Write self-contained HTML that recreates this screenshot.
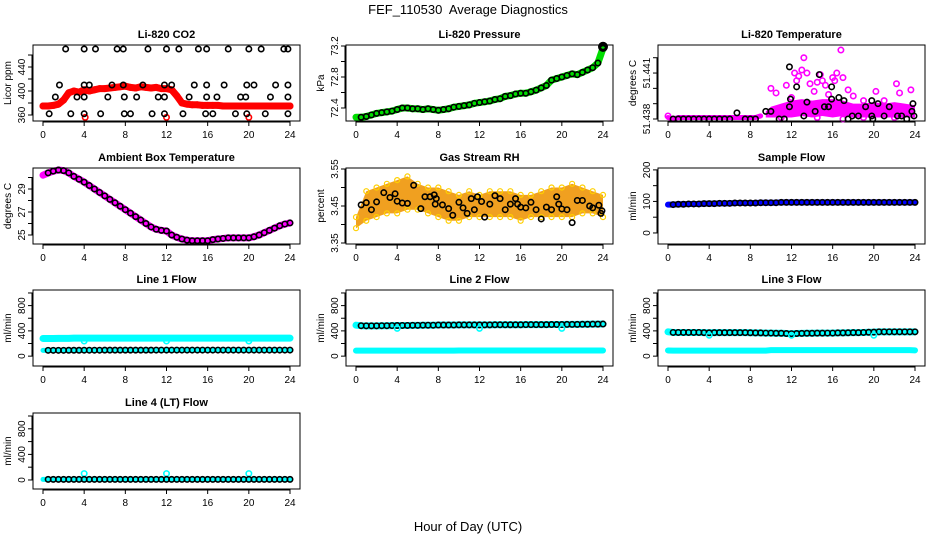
<!DOCTYPE html>
<html><head><meta charset="utf-8"><style>
body{margin:0;background:#fff}
svg{display:block;font-family:"Liberation Sans",sans-serif}
.t{font-size:11px;font-weight:bold;text-anchor:middle}
.k{font-size:10px;text-anchor:middle}
</style></head><body>
<svg id="c" width="936" height="540">
<text x="468" y="14" style="font-size:13px;text-anchor:middle;white-space:pre">FEF_110530  Average Diagnostics</text>
<text x="468" y="531" style="font-size:13px;text-anchor:middle">Hour of Day (UTC)</text>
</svg>
<script>
// ---- data ----
const hours = [0,0.5,1,1.5,2,2.5,3,3.5,4,4.5,5,5.5,6,6.5,7,7.5,8,8.5,9,9.5,10,10.5,11,11.5,12,12.5,13,13.5,14,14.5,15,15.5,16,16.5,17,17.5,18,18.5,19,19.5,20,20.5,21,21.5,22,22.5,23,23.5,24];
const co2Red = [375,375,376,378,385,397,400,398,402,400,402,404,404,405,406,407,408,406,405,407,406,405,406,404,404,402,392,380,378,377,377,376,376,376,376,375,375,375,375,375,375,375,375,375,375,375,375,375,375];
const co2BlackX = [2.2,4,5.1,7.2,7.8,10.2,12,13.2,15.1,15.9,18,20,21.2,23.4,23.8, 1.6,4,4.5,6.7,7.8,9.7,11.8,12.5,14.7,15.9,17.6,19.8,20.5,22.6,23.8, 1.2,3.3,4,6.3,7.9,9.1,11.2,11.8,14.2,15.9,16.9,19.2,19.7,22.1,23.8, 0.6,2.7,4,5.6,7.9,8.5,10.6,11.8,13.6,15.8,16.5,18.7,19.8,21.6,23.8];
const co2BlackY = [470,470,470,470,470,470,470,470,470,470,470,470,470,470,470, 410,410,410,410,410,410,410,410,410,410,410,410,410,410,410, 390,390,390,390,390,390,390,390,390,390,390,390,390,390,390, 362,362,362,362,362,362,362,362,362,362,362,362,362,362,362];
const co2OutX = [4.1,12,20];
const co2OutY = [356,356,356];
const pressure = [72.28,72.28,72.29,72.31,72.33,72.34,72.35,72.36,72.38,72.40,72.40,72.39,72.39,72.38,72.39,72.38,72.37,72.38,72.39,72.41,72.42,72.43,72.44,72.46,72.47,72.48,72.49,72.51,72.52,72.55,72.56,72.58,72.59,72.59,72.61,72.63,72.66,72.69,72.76,72.78,72.80,72.82,72.84,72.83,72.86,72.89,72.92,72.98,73.17];
const tempBaseX = [0,0.5,1,1.5,2,2.5,3,3.5,4,4.5,5,5.5,6,6.5,7,7.5,8,8.5,9];
const tempBaseY = [51.4381,51.4380,51.4381,51.4381,51.4381,51.4381,51.4381,51.4381,51.4381,51.4381,51.4381,51.4381,51.4381,51.4381,51.4381,51.4381,51.4381,51.4381,51.4382];
const tempBandX = [9.5,10,11,12,13,14,15,16,17,18,19,20,21,22,23,24];
const tempBandLo = [51.4381,51.4381,51.4381,51.4381,51.4382,51.4381,51.4382,51.4381,51.4382,51.4381,51.4381,51.4381,51.4381,51.4381,51.4381,51.4381];
const tempBandHi = [51.4385,51.4388,51.4390,51.4392,51.4393,51.4392,51.4393,51.4393,51.4392,51.4390,51.4390,51.4391,51.4390,51.4391,51.4390,51.4389];
const tempPinkX = [10,10.5,11.5,12,12.3,12.5,12.7,13,13.2,13.5,13.8,14.2,14.5,14.8,15,15.3,15.6,16,16.2,16.4,16.8,17,17.5,18,19,20.2,21,22.2,22.5,23.6,11,14.5,17,19,22,0];
const tempPinkY = [51.4400,51.4397,51.4402,51.4394,51.4410,51.4405,51.4408,51.4412,51.4420,51.4410,51.4403,51.4398,51.4404,51.4409,51.4405,51.4402,51.4396,51.4407,51.4405,51.4410,51.4425,51.4407,51.4399,51.4395,51.4392,51.4398,51.4392,51.4403,51.4397,51.4399,51.4381,51.4381,51.4380,51.4381,51.4381,51.4382];
const tempBlackX = [0.5,1,1.5,2,2.5,3,3.5,4,4.5,5,5.5,6,6.7,7.5,8,8.5,9.5,10,10.8,11.3,11.8,11.9,11.8,12.5,13.2,13.5,14.3,14.7,15.2,15.6,15.9,15.9,16.6,17.1,17.5,17.9,18.5,19.2,19.8,19.8,19.9,20.4,21,21.5,22.3,22.7,23.2,23.7,23.8,23.9];
const tempBlackY = [51.4380,51.4380,51.4380,51.4380,51.4380,51.4380,51.4380,51.4380,51.4380,51.4380,51.4380,51.4380,51.4384,51.4380,51.4380,51.4380,51.4385,51.4385,51.4380,51.4380,51.4388,51.4393,51.4414,51.4401,51.4382,51.4391,51.4385,51.4409,51.4388,51.4388,51.4393,51.4401,51.4394,51.4392,51.4380,51.4382,51.4382,51.4388,51.4392,51.4382,51.4380,51.4390,51.4382,51.4388,51.4382,51.4382,51.4380,51.4385,51.4390,51.4382];
const ambient = [30.2,30.4,30.55,30.65,30.6,30.4,30.1,29.85,29.6,29.3,29.0,28.7,28.4,28.1,27.8,27.5,27.2,26.9,26.6,26.3,26.0,25.7,25.5,25.4,25.35,25.0,24.8,24.65,24.55,24.5,24.5,24.5,24.5,24.6,24.65,24.7,24.75,24.75,24.75,24.75,24.75,24.85,25.0,25.2,25.4,25.6,25.8,25.95,26.05];
const rhBandX = [0,1,2,3,4,5,6,7,8,9,10,11,12,13,14,15,16,17,18,19,20,21,22,23,24];
const rhBandLo = [3.39,3.41,3.42,3.43,3.43,3.44,3.44,3.43,3.42,3.41,3.41,3.42,3.42,3.42,3.42,3.42,3.41,3.42,3.42,3.42,3.42,3.42,3.43,3.43,3.42];
const rhBandHi = [3.42,3.49,3.50,3.51,3.52,3.53,3.51,3.50,3.50,3.49,3.48,3.49,3.48,3.49,3.49,3.49,3.48,3.48,3.49,3.50,3.50,3.51,3.50,3.49,3.48];
const rhBlackX = [0.5,1,1.5,2,2.7,3.3,3.8,4,4.5,5,5.6,6.3,6.7,7.2,7.6,7.8,7.7,8.4,9,9.4,10,10.4,10.8,11.2,11.5,11.8,12.2,12.5,13,13.5,14,14.5,15,15.5,15.7,16,16.5,17,17.5,18,18.5,19,19.5,19.7,20,20.5,21,21.5,22,22.7,23,23.6,23.8,23.9];
const rhBlackY = [3.453,3.459,3.44,3.461,3.486,3.473,3.483,3.463,3.458,3.457,3.506,3.443,3.475,3.475,3.48,3.47,3.455,3.453,3.443,3.425,3.46,3.445,3.43,3.47,3.44,3.475,3.462,3.42,3.455,3.478,3.47,3.44,3.455,3.47,3.455,3.447,3.445,3.46,3.44,3.415,3.447,3.44,3.475,3.455,3.442,3.44,3.405,3.465,3.465,3.45,3.445,3.452,3.43,3.437];
const sampleFlow = [90,90,91,91,92,92,92,93,93,93,94,94,94,95,95,95,95,95,96,96,96,96,97,97,97,97,97,97,97,97,97,97,97,97,97,97,97,97,97,97,97,97,97,97,97,97,97,97,97];
const line1Hi = [280,280,280,282,282,282,285,285,285,285,285,285,285,285,285,285,285,285,285,285,285,285,285,285,285,285,285,285,285,285,285,285,285,285,285,285,285,285,285,285,285,285,285,285,285,285,285,285,285];
const line1Lo = [92,92,92,92,92,93,93,93,94,94,94,94,95,95,95,95,95,95,95,95,95,95,96,96,96,96,96,96,96,96,96,96,96,96,96,96,96,96,96,96,96,96,96,96,96,96,96,96,96];
const line2Hi = [490,482,480,480,480,482,482,484,485,486,486,488,488,490,490,490,492,492,492,492,494,494,494,494,495,495,495,496,496,496,497,497,497,498,498,498,499,499,500,500,500,502,502,503,504,505,506,507,508];
const line2Lo = [88,88,88,88,88,88,88,88,88,88,88,88,88,88,88,88,88,88,88,88,90,90,90,90,90,90,90,90,90,90,90,90,90,90,90,90,90,90,90,90,90,90,90,90,90,90,90,90,90];
const line3Hi = [385,375,375,375,375,375,375,372,370,372,372,372,372,372,372,372,370,368,368,365,365,362,362,358,355,358,360,362,362,364,364,365,365,368,368,370,372,372,375,378,380,385,385,385,385,385,385,385,385];
const line3Lo = [90,88,88,88,88,88,88,88,88,88,88,88,88,88,88,88,88,88,88,88,95,95,95,95,95,95,95,95,95,95,95,95,95,95,95,95,95,95,95,95,95,95,95,95,95,95,95,95,92];
const line4 = [10,10,10,10,10,10,10,10,10,10,10,10,10,10,10,10,10,10,10,10,10,10,10,10,10,10,10,10,10,10,10,10,10,10,10,10,10,10,10,10,10,10,10,10,10,10,10,10,10];
const line4OutX = [4,12,20];
const line4OutY = [100,100,100];
const xTicks = [0,4,8,12,16,20,24];

// ---- drawing ----
const svg = document.getElementById('c');
const NS = 'http://www.w3.org/2000/svg';
function mk(tag, attrs, parent){ const e=document.createElementNS(NS,tag); for(const k in attrs) e.setAttribute(k,attrs[k]); (parent||svg).appendChild(e); return e; }
const colL=[33,346,658], rowT=[45,168,290,413], W=267, H=76;

function panel(col,row,title,ylab,vLo,vHi,ticks,labels,name){
  const L=colL[col], T=rowT[row];
  const g=mk('g',{});
  
  
  const X=t=>L+10+t*(247/24);
  const Y=v=>T+H-(v-vLo)/(vHi-vLo)*H;
  const tt=mk('text',{x:L+W/2,y:T-7,class:'t'},g); tt.textContent=title;
  
  
  const yl=mk('text',{x:0,y:0,class:'k',transform:`translate(${L-22},${T+H/2}) rotate(-90)`},g); yl.textContent=ylab;
  
  
  mk('line',{x1:X(0),x2:X(24),y1:T+H+1,y2:T+H+1,stroke:'#000'},g);
  xTicks.forEach(t=>{ mk('line',{x1:X(t),x2:X(t),y1:T+H,y2:T+H+5,stroke:'#000'},g);
    const e=mk('text',{x:X(t),y:T+H+17,class:'k'},g); e.textContent=t;
    
     });
  mk('line',{x1:L-1,x2:L-1,y1:Y(ticks[0]),y2:Y(ticks[ticks.length-1]),stroke:'#000'},g);
  ticks.forEach((v,i)=>{ mk('line',{x1:L-5,x2:L,y1:Y(v),y2:Y(v),stroke:'#000'},g);
    if(labels[i]){ const e=mk('text',{x:0,y:0,class:'k',transform:`translate(${L-8},${Y(v)}) rotate(-90)`},g); e.textContent=labels[i];
      
       } });
  const data=mk('g',{},g);
  mk('rect',{x:L,y:T,width:W,height:H,fill:'none',stroke:'#000'},g);
  return {X,Y,g:data};
}
function band(p,xs,vs,color,w){
  const e=mk('polyline',{points:xs.map((t,i)=>p.X(t)+','+p.Y(vs[i])).join(' '),fill:'none',stroke:color,'stroke-width':w,'stroke-linejoin':'round','stroke-linecap':'round'},p.g);
  
  
}
function fillBand(p,xs,lo,hi,color){
  const pts=xs.map((t,i)=>p.X(t)+','+p.Y(hi[i])).concat(xs.map((t,i)=>p.X(t)+','+p.Y(lo[i])).reverse());
  const e=mk('polygon',{points:pts.join(' '),fill:color},p.g);
  
  
}
function pts(p,xs,vs,color,r,sw){
  xs.forEach((t,i)=>{ const e=mk('circle',{cx:p.X(t),cy:p.Y(vs[i]),r:r||2.7,fill:'none',stroke:color,'stroke-width':sw||1.6},p.g);
    
     });
}
const h5=hours.slice(1);

let p=panel(0,0,'Li-820 CO2','Licor ppm',350,476.7,[360,380,400,420,440,460],['360','','400','','440',''],'co2-panel');
band(p,hours,co2Red,'#ff0000',7); pts(p,hours,co2Red,'#ff0000');
pts(p,co2OutX,co2OutY,'#ff0000'); pts(p,co2BlackX,co2BlackY,'#000');

p=panel(1,0,'Li-820 Pressure','kPa',72.232,73.213,[72.4,72.6,72.8,73.0,73.2],['72.4','','72.8','','73.2'],'pressure-panel');
band(p,hours,pressure,'#00dd00',7); pts(p,h5,pressure.slice(1),'#000');
pts(p,[24],[73.19],'#000',3.5,3);

p=panel(2,0,'Li-820 Temperature','degrees C',51.43787,51.44283,[51.438,51.439,51.440,51.441,51.442],['51.438','','','51.441',''],'temperature-panel');
band(p,tempBaseX,tempBaseY,'#ff00ff',5);
fillBand(p,tempBandX,tempBandLo,tempBandHi,'#ff00ff');
pts(p,tempPinkX,tempPinkY,'#ff00ff'); pts(p,tempBlackX,tempBlackY,'#000');

p=panel(0,1,'Ambient Box Temperature','degrees C',24.217,30.826,[25,26,27,28,29,30],['25','','27','','29',''],'ambient-temp-panel');
band(p,hours,ambient,'#ff00ff',7); pts(p,h5,ambient.slice(1),'#000');

p=panel(1,1,'Gas Stream RH','percent',3.3473,3.5527,[3.35,3.40,3.45,3.50,3.55],['3.35','','3.45','','3.55'],'rh-panel');
fillBand(p,rhBandX,rhBandLo,rhBandHi,'#f0a020');
pts(p,rhBandX,rhBandHi,'#ffd000',2.5,1.2); pts(p,rhBandX,rhBandLo,'#ffd000',2.5,1.2);
pts(p,rhBlackX,rhBlackY,'#000');

p=panel(2,1,'Sample Flow','ml/min',-35,206,[0,50,100,150,200],['0','','100','','200'],'sample-flow-panel');
band(p,hours,sampleFlow,'#0000ff',6); pts(p,h5,sampleFlow.slice(1),'#000');

const fT=[0,200,400,600,800,1000], fL=['0','','400','','800',''];
p=panel(0,2,'Line 1 Flow','ml/min',-156,1047,fT,fL,'line1-flow-panel');
band(p,hours,line1Hi,'#00ffff',7); band(p,hours,line1Lo,'#00ffff',5); pts(p,h5,line1Lo.slice(1),'#000');
pts(p,[4,12,20],[240,240,240],'#00ffff');

p=panel(1,2,'Line 2 Flow','ml/min',-156,1047,fT,fL,'line2-flow-panel');
band(p,hours,line2Hi,'#00ffff',7); band(p,hours,line2Lo,'#00ffff',6); pts(p,h5,line2Hi.slice(1),'#000');
pts(p,[4,12,20],[440,440,440],'#00ffff');

p=panel(2,2,'Line 3 Flow','ml/min',-156,1047,fT,fL,'line3-flow-panel');
band(p,hours,line3Hi,'#00ffff',7); band(p,hours,line3Lo,'#00ffff',6); pts(p,h5,line3Hi.slice(1),'#000');
pts(p,[4,12,20],[330,330,330],'#00ffff');

p=panel(0,3,'Line 4 (LT) Flow','ml/min',-141,1047,fT,fL,'line4-flow-panel');
band(p,hours,line4,'#00ffff',5); pts(p,line4OutX,line4OutY,'#00ffff'); pts(p,h5,line4.slice(1),'#000');
</script>
</body></html>
